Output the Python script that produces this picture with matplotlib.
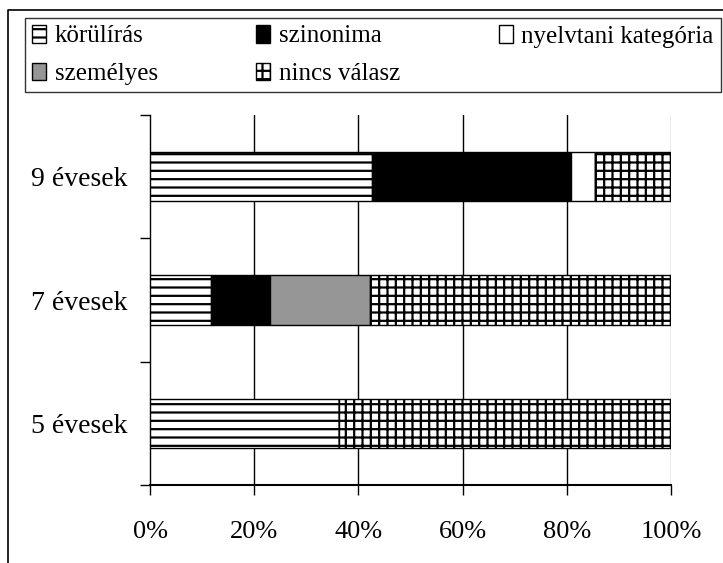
import numpy as np
import matplotlib.pyplot as plt
from matplotlib.patches import Patch
from matplotlib.lines import Line2D

plt.rcParams['font.family'] = ['Liberation Serif', 'DejaVu Serif']
plt.rcParams['hatch.linewidth'] = 1.6

# data (percent of answers per age group)
groups = ['5 évesek', '7 évesek', '9 évesek']
korulirás = [36.3, 11.7, 42.7]
szinonima = [0.0, 11.4, 38.2]
nyelvtani = [0.0, 0.0, 4.5]
szemelyes = [0.0, 19.1, 0.0]
nincs = [63.7, 57.8, 14.6]

series = [
    ('körülírás', korulirás, 'white', '--'),
    ('szinonima', szinonima, 'black', None),
    ('nyelvtani kategória', nyelvtani, 'white', None),
    ('személyes', szemelyes, '#969696', None),
    ('nincs válasz', nincs, 'white', '++'),
]

fig = plt.figure(figsize=(7.23, 5.63), dpi=100)
ax = fig.add_axes([150/723, 78/563, 521/723, 370/563])

y = np.arange(len(groups))
left = np.zeros(len(groups))
handles = {}
for name, vals, color, hatch in series:
    vals = np.array(vals)
    ax.barh(y, vals, left=left, height=0.4, color=color, edgecolor='black',
            linewidth=1.0, hatch=hatch, zorder=3)
    handles[name] = Patch(facecolor=color, edgecolor='black', hatch=hatch, linewidth=1.0)
    left += vals

ax.set_xlim(0, 100)
ax.set_ylim(-0.5, 2.5)
ax.set_xticks([0, 20, 40, 60, 80, 100])
ax.set_xticklabels(['0%', '20%', '40%', '60%', '80%', '100%'], fontsize=19)
ax.tick_params(axis='x', direction='out', length=7, width=1, pad=19)
ax.set_yticks(y)
ax.set_yticklabels(groups, fontsize=20)
ax.tick_params(axis='y', which='major', length=0, pad=16)
ax.set_yticks([-0.5, 0.5, 1.5, 2.5], minor=True)
ax.tick_params(axis='y', which='minor', direction='out', length=7, width=1)

for xv in [20, 40, 60, 80]:
    ax.axvline(xv, color='black', linewidth=1.0, zorder=1)
ax.axvline(100, color='#999999', linewidth=1.0, zorder=1)

ax.spines['top'].set_visible(False)
ax.spines['right'].set_visible(False)
ax.spines['bottom'].set_linewidth(1.5)
ax.spines['left'].set_linewidth(1.0)

order = ['körülírás', 'személyes', 'szinonima', 'nincs válasz', 'nyelvtani kategória']
leg = fig.legend([handles[k] for k in order], order, ncol=3, loc='upper left',
                 bbox_to_anchor=(25/723, 1 - 18/563), fontsize=18, frameon=True,
                 fancybox=False, edgecolor='black', handlelength=0.55, handleheight=0.7,
                 handletextpad=0.35, columnspacing=3.95, labelspacing=0.6,
                 borderpad=0.28, borderaxespad=0)
leg.get_frame().set_linewidth(1.0)

# outer chart border
fig.add_artist(Line2D([8/723, 8/723, 1.0], [0.0, 1 - 10/563, 1 - 10/563],
                      color='black', linewidth=1.2, transform=fig.transFigure))

fig.savefig('out.png', dpi=100)
